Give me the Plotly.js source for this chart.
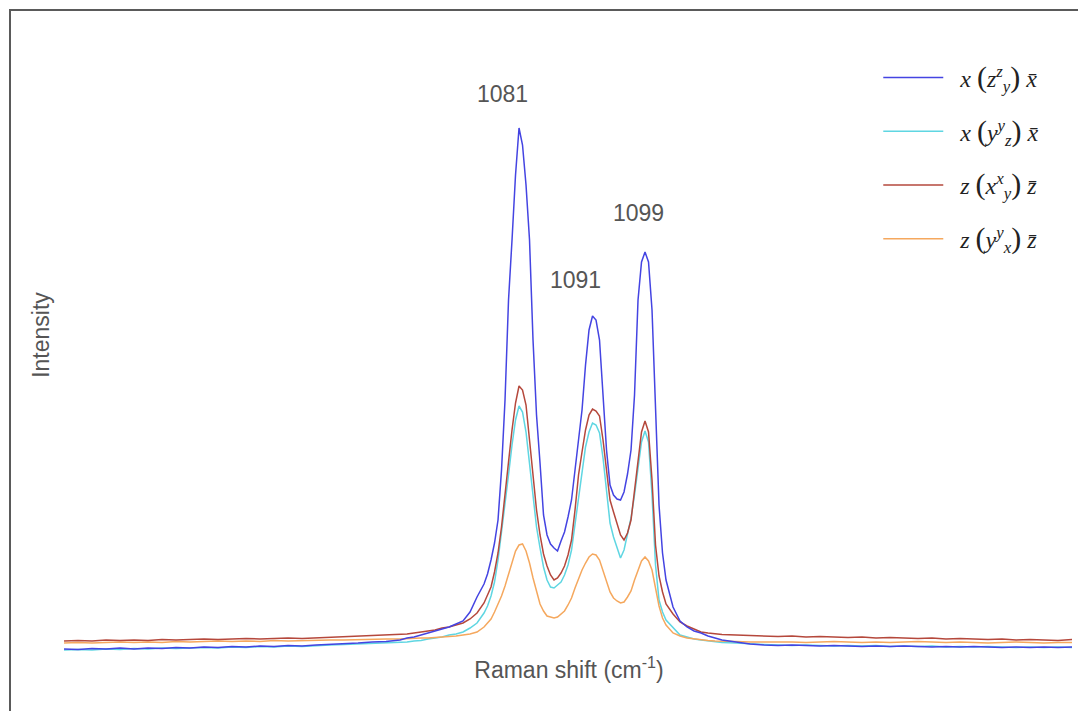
<!DOCTYPE html>
<html>
<head>
<meta charset="utf-8">
<script src="https://cdn.plot.ly/plotly-3.0.1.min.js"></script>
<style>
  html, body { margin: 0; padding: 0; background: #ffffff; overflow: hidden; }
  #frame { position: absolute; left: 9px; top: 9px; width: 1200px; height: 800px; border: 2px solid #5a5a5a; box-sizing: border-box; }
  #chart { position: absolute; left: 0; top: 0; width: 1078px; height: 711px; }
</style>
</head>
<body>
<div id="frame"></div>
<div id="chart"></div>
<script>
// Raman shift (cm^-1)
const ramanShift = [1016,1018,1020,1022,1024,1026,1028,1030,1032,1034,1036,1038,1040,1042,1044,1046,1048,1050,1052,1054,1056,1058,1060,1062,1064,
  1065,1066,1067,1068,1069,1070,1071,1072,1073,1074,1075,
  1076,1076.5,1077,1077.5,1078,1078.5,1079,1079.5,1080,1080.5,1081,1081.5,1082,1082.5,1083,1083.5,1084,1084.5,1085,1085.5,1086,1086.5,1087,1087.5,1088,1088.5,1089,1089.5,1090,1090.5,1091,1091.5,1092,1092.5,1093,1093.5,1094,1094.5,1095,1095.5,1096,1096.5,1097,1097.5,1098,1098.5,1099,1099.5,1100,1100.5,1101,1101.5,1102,
  1103,1104,1105,1106,1107,1108,1109,1110,1112,1114,
  1116,1118,1120,1122,1124,1126,1128,1130,1132,1134,1136,1138,1140,1142,1144,1146,1148,1150,1152,1154,1156,1158,1160];

const intensityXZZYX = [11,10.5,11.5,11,12,11,12,11.5,12.5,12,13,12.5,13.5,13,14,13.5,14.5,14,15,15.5,16,17,18,18.5,20,
  22,23,25,27,29,31,33,36,39,48,63,
  76,86,100,117,140,190,260,360,420,485,532,515,475,420,320,245,197,145,125,116,112,109,119,128,143,160,190,220,250,295,330,344,340,320,265,210,175,165,161,160,168,186,210,265,360,398,408,398,350,250,155,107,80,
  53,39,33,29,27,24,22,20,18,16,
  15,14.5,15,14.5,14,14.5,14,13.5,14,13.5,14,13.5,13,13.5,13,13.5,13,12.5,13,12.5,13,12.5,13];

const intensityXYYZX = [10,10.5,10,11,10.5,11.5,11,12,11.5,12,12.5,12,13,12.5,13.5,13,14,13.5,14.5,15,15.5,16,16.5,17,17.5,
  18,19,19.5,21,22,23,25,26,28,32,37,
  47,54,64,78,100,128,155,185,215,240,254,248,228,195,165,133,112,93,80,73,72,75,78,85,95,110,135,165,190,213,228,237,235,227,202,170,137,123,113,102,110,125,142,165,193,218,229,218,165,95,60,48,40,
  32,25,23,21,20,19,18,17.5,17,16,
  15.5,15,14.5,15,14.5,14,14.5,14,14.5,13.5,14,13.5,14,13,13.5,13,13.5,13,12.5,13,12.5,13,12.5];

const intensityZXXYZ = [19,19.5,19,20,19.5,20,19.5,20.5,20,20.5,21,20.5,21,21.5,21,21.5,22,21.5,22,22.5,23,23.5,24,24.5,25,
  26,27,28,29,30,32,33,35,37,41,47,
  57,65,73,88,107,133,163,198,230,257,274,270,255,220,180,150,125,106,94,85,80,82,87,94,105,120,150,185,208,230,245,251,249,244,220,190,160,148,137,125,120,127,140,168,200,228,239,228,180,115,84,68,56,
  46,38,34,31,28,27,26,25.5,25,24.5,
  24,23.5,24,23,23.5,23,22.5,23,22,22.5,22,21.5,22,21,21.5,21,20.5,21,20,20.5,20,19.5,20.5];

const intensityZYYXZ = [17,17.5,17,17.5,18,17.5,18,17.5,18.5,18,18.5,19,18.5,19,18.5,19.5,19,19.5,19.5,20,20,20.5,20.5,21,21,
  21.5,21.5,22,22,22.5,22.5,23,24,25,26,28,
  33,37,41,48,56,64,74,86,99,109,115,116,109,97,82,68,56,49,44,43,42,43,46,49,55,62,72,82,90,97,103,106,105,100,90,78,68,62,59,57,58,63,69,80,90,99,103,99,90,72,54,42,35,
  27,24,22,21,20,19.5,19,19,18.5,18,
  18,18.5,18,17.5,18,18.5,18,17.5,18,17.5,18,18.5,18,17.5,18,17.5,17,17.5,18,17.5,17,17.5,17.5];

const seriesNames = [
  "\u00a0\u00a0<i>x</i> <span style=\"font-size:30px\">(</span><i>z</i><sup><i>z</i></sup><sub><i>y</i></sub><span style=\"font-size:30px\">)</span> <i>x\u0304</i>",
  "\u00a0\u00a0<i>x</i> <span style=\"font-size:30px\">(</span><i>y</i><sup><i>y</i></sup><sub><i>z</i></sub><span style=\"font-size:30px\">)</span> <i>x\u0304</i>",
  "\u00a0\u00a0<i>z</i> <span style=\"font-size:30px\">(</span><i>x</i><sup><i>x</i></sup><sub><i>y</i></sub><span style=\"font-size:30px\">)</span> <i>z\u0304</i>",
  "\u00a0\u00a0<i>z</i> <span style=\"font-size:30px\">(</span><i>y</i><sup><i>y</i></sup><sub><i>x</i></sub><span style=\"font-size:30px\">)</span> <i>z\u0304</i>"
];
const seriesColors = ["#4444e2", "#5fd6e2", "#b5483c", "#f5a85e"];

const peakLabels = ["1081", "1091", "1099"];

const seriesY = [intensityXZZYX, intensityXYYZX, intensityZXXYZ, intensityZYYXZ];
const drawOrder = [1, 3, 2, 0];

const traces = drawOrder.map(i => ({
  type: 'scatter',
  mode: 'lines',
  x: ramanShift,
  y: seriesY[i],
  name: seriesNames[i],
  legendgroup: 'g' + i,
  legendrank: i + 1,
  line: { color: seriesColors[i], width: 1.5 },
  hoverinfo: 'skip'
}));

const labelFont = { family: 'Liberation Sans, Arial, sans-serif', size: 23, color: '#555555' };

const layout = {
  width: 1078,
  height: 711,
  margin: { l: 62, r: 2, t: 10, b: 51 },
  paper_bgcolor: 'rgba(0,0,0,0)',
  plot_bgcolor: 'rgba(0,0,0,0)',
  showlegend: true,
  legend: {
    x: 0.805, xanchor: 'left',
    y: 0.93, yanchor: 'top',
    traceorder: 'grouped',
    tracegroupgap: 19.5,
    itemwidth: 60,
    bgcolor: 'rgba(0,0,0,0)',
    font: { family: 'Liberation Serif, DejaVu Serif, serif', size: 24, color: '#222222' }
  },
  xaxis: {
    range: [1015.71, 1160.57],
    showgrid: false, zeroline: false, showline: false,
    showticklabels: false, ticks: '',
    title: { text: 'Raman shift (cm<sup>-1</sup>)', font: labelFont, standoff: 1 }
  },
  yaxis: {
    range: [0, 650],
    showgrid: false, zeroline: false, showline: false,
    showticklabels: false, ticks: '',
    title: { text: 'Intensity', font: labelFont, standoff: 4 }
  },
  annotations: [
    { x: 1078.6, y: 566, text: peakLabels[0] },
    { x: 1089.1, y: 380, text: peakLabels[1] },
    { x: 1098.0, y: 447, text: peakLabels[2] }
  ].map(a => Object.assign(a, { xref: 'x', yref: 'y', showarrow: false, font: labelFont }))
};

Plotly.newPlot('chart', traces, layout, { displayModeBar: false, staticPlot: true });
</script>
</body>
</html>
